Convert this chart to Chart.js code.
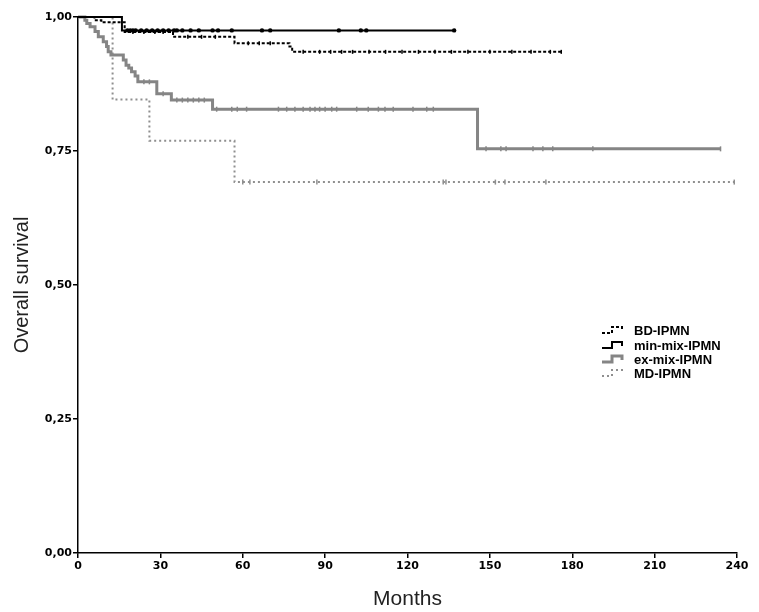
<!DOCTYPE html>
<html>
<head>
<meta charset="utf-8">
<script src="https://cdn.jsdelivr.net/npm/chart.js@4/dist/chart.umd.min.js"></script>
<style>
  html, body { margin: 0; padding: 0; background: #fff; }
  #wrap { width: 759px; height: 612px; }
</style>
</head>
<body>
<div id="wrap"><canvas id="km" width="759" height="612"></canvas></div>
<script>
// Kaplan-Meier steps: time (months) where survival drops, and new survival value
const bdTimes = [0, 6, 8.5, 17, 34.6, 57, 77, 78, 176];
const bdSurv = [1, 0.994, 0.99, 0.972, 0.963, 0.951, 0.945, 0.935, 0.935];
const bdCensored = [20, 24, 28, 31, 40, 45, 50, 62, 66, 70, 82, 88, 92, 96, 100, 106, 112, 118, 124, 130, 136, 142, 150, 158, 165, 172, 176];

const minTimes = [0, 16, 137];
const minSurv = [1, 0.975, 0.975];
const minCensored = [18, 19, 20, 21, 23, 25, 27, 29, 31, 33, 35, 36, 38, 41, 44, 49, 51, 56, 67, 70, 95, 103, 105, 137];

const exTimes = [0, 2.5, 3.2, 4.4, 6.2, 7.4, 9.2, 10.4, 11, 12, 16.5, 17.5, 18.5, 19.5, 20.8, 21.8, 28.7, 34, 49, 145.5, 234];
const exSurv = [1, 0.994, 0.988, 0.982, 0.973, 0.963, 0.954, 0.945, 0.935, 0.929, 0.92, 0.91, 0.905, 0.898, 0.89, 0.879, 0.857, 0.845, 0.828, 0.754, 0.754];
const exCensored = [24, 26, 31, 36, 38, 40, 42, 44, 46, 50.5, 56, 58, 61.4, 73, 76, 79, 82, 84.5, 86.3, 88, 90, 92.4, 94.2, 101.5, 105.7, 109.4, 111.8, 114.8, 122, 127, 129.4, 148.6, 154, 155.9, 165.7, 169.3, 172.9, 187.5, 234];

const mdTimes = [0, 12.6, 26, 57, 239];
const mdSurv = [1, 0.846, 0.769, 0.692, 0.692];
const mdCensored = [60, 62.6, 87, 133, 134, 152, 155.5, 170.4, 239];

const groupNames = ['BD-IPMN', 'min-mix-IPMN', 'ex-mix-IPMN', 'MD-IPMN'];
const xTicks = [0, 30, 60, 90, 120, 150, 180, 210, 240];
const yTicks = [0, 0.25, 0.5, 0.75, 1];

function steps(times, surv) {
  return times.map((t, i) => ({ x: t, y: surv[i] }));
}
function survAt(times, surv, t) {
  let s = surv[0];
  for (let i = 0; i < times.length; i++) {
    if (times[i] <= t) s = surv[i];
  }
  return s;
}
function censors(times, surv, cens) {
  return cens.map(t => ({ x: t, y: survAt(times, surv, t) }));
}

const gray = '#858585';
const lightGray = '#8f8f8f';

const curves = [
  { label: groupNames[0], data: steps(bdTimes, bdSurv), borderColor: '#000', borderWidth: 2, borderDash: [3, 2] },
  { label: groupNames[1], data: steps(minTimes, minSurv), borderColor: '#000', borderWidth: 2, borderDash: [] },
  { label: groupNames[2], data: steps(exTimes, exSurv), borderColor: gray, borderWidth: 3, borderDash: [] },
  { label: groupNames[3], data: steps(mdTimes, mdSurv), borderColor: lightGray, borderWidth: 2, borderDash: [2, 3] }
];

const datasets = curves.map(c => ({
  label: c.label,
  data: c.data,
  showLine: true,
  stepped: true,
  borderColor: c.borderColor,
  borderWidth: c.borderWidth,
  borderDash: c.borderDash,
  pointRadius: 0,
  fill: false,
  clip: 4
}));

datasets.push({
  label: 'bd-censored', data: censors(bdTimes, bdSurv, bdCensored), showLine: false,
  pointStyle: 'line', rotation: 90, pointRadius: 2, borderColor: '#000', borderWidth: 1.5, clip: 4
});
datasets.push({
  label: 'min-censored', data: censors(minTimes, minSurv, minCensored), showLine: false,
  pointStyle: 'circle', pointRadius: 2.2, backgroundColor: '#000', borderColor: '#000', borderWidth: 0, clip: 4
});
datasets.push({
  label: 'ex-censored', data: censors(exTimes, exSurv, exCensored), showLine: false,
  pointStyle: 'line', rotation: 90, pointRadius: 2.5, borderColor: gray, borderWidth: 1.5, clip: 4
});
datasets.push({
  label: 'md-censored', data: censors(mdTimes, mdSurv, mdCensored), showLine: false,
  pointStyle: 'line', rotation: 90, pointRadius: 2.5, borderColor: lightGray, borderWidth: 1.5, clip: 4
});

// legend drawn inside the plot area with small step icons
const stepLegend = {
  id: 'stepLegend',
  afterDraw(chart) {
    const ctx = chart.ctx;
    const x0 = 602, ys = [330, 345, 359, 373];
    ctx.save();
    curves.forEach((c, i) => {
      const y = ys[i];
      ctx.beginPath();
      ctx.strokeStyle = c.borderColor;
      ctx.lineWidth = c.borderWidth;
      ctx.setLineDash(c.borderDash);
      ctx.moveTo(x0, y + 3);
      ctx.lineTo(x0 + 10, y + 3);
      ctx.lineTo(x0 + 10, y - 3);
      ctx.lineTo(x0 + 20, y - 3);
      ctx.lineTo(x0 + 20, y + 1);
      ctx.stroke();
      ctx.setLineDash([]);
      ctx.fillStyle = '#000';
      ctx.font = 'bold 13px "Liberation Sans", Arial, sans-serif';
      ctx.textBaseline = 'middle';
      ctx.fillText(c.label, 634, y + 1);
    });
    ctx.restore();
  }
};

const tickFont = { family: '"DejaVu Sans", sans-serif', size: 11, weight: 'bold' };

new Chart(document.getElementById('km').getContext('2d'), {
  type: 'scatter',
  data: { datasets: datasets },
  options: {
    responsive: false,
    animation: false,
    layout: { padding: { left: 0, right: 22, top: 17, bottom: 0 } },
    plugins: {
      legend: { display: false },
      tooltip: { enabled: false }
    },
    scales: {
      x: {
        type: 'linear',
        min: 0,
        max: 240,
        afterBuildTicks: scale => { scale.ticks = xTicks.map(v => ({ value: v })); },
        afterFit: scale => { scale.height = 59; },
        grid: { display: true, drawOnChartArea: false, color: '#000', tickLength: 5, lineWidth: 1.5 },
        border: { display: true, color: '#000', width: 1.5 },
        ticks: { color: '#000', font: tickFont, padding: 2, maxRotation: 0 },
        title: {
          display: true, text: 'Months', color: '#222',
          font: { family: '"Liberation Sans", Arial, sans-serif', size: 21 },
          padding: { top: 6, bottom: 0 }
        }
      },
      y: {
        type: 'linear',
        min: 0,
        max: 1,
        afterBuildTicks: scale => { scale.ticks = yTicks.map(v => ({ value: v })); },
        afterFit: scale => { scale.width = 78; },
        grid: { display: true, drawOnChartArea: false, color: '#000', tickLength: 5, lineWidth: 1.5 },
        border: { display: true, color: '#000', width: 1.5 },
        ticks: {
          color: '#000', font: tickFont, padding: 1,
          callback: v => v.toFixed(2).replace('.', ',')
        },
        title: {
          display: true, text: 'Overall survival', color: '#222',
          font: { family: '"Liberation Sans", Arial, sans-serif', size: 20 },
          padding: { top: 10, bottom: 4 }
        }
      }
    }
  },
  plugins: [stepLegend]
});
</script>
</body>
</html>
